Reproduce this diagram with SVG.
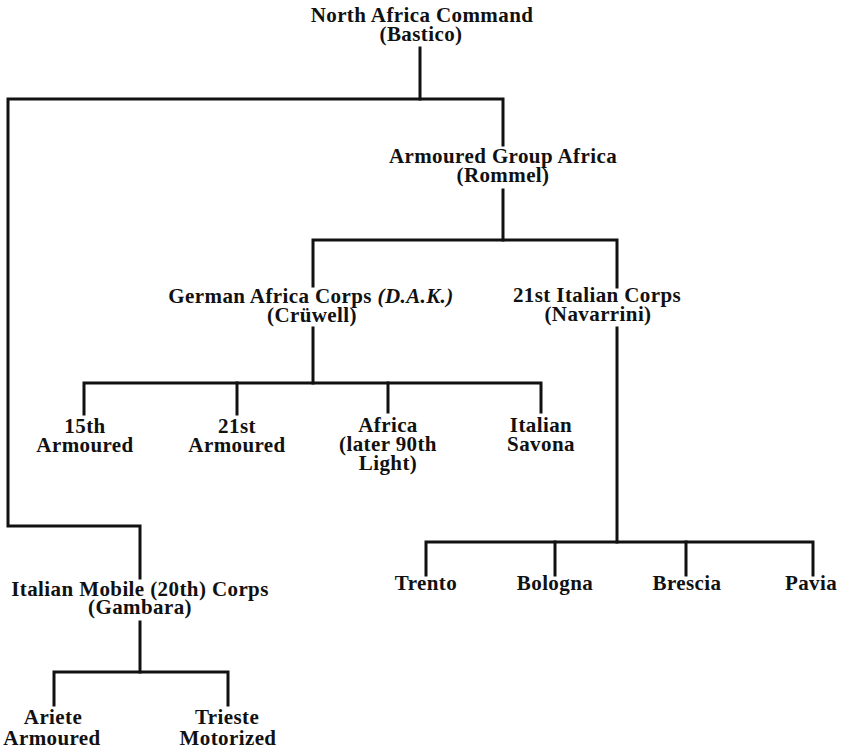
<svg xmlns="http://www.w3.org/2000/svg" width="842" height="750" viewBox="0 0 842 750">
<style>
.t{font-family:"Liberation Serif","Times New Roman",serif;font-weight:bold;font-size:21px;letter-spacing:0.4px;fill:#111;text-anchor:middle}
.c{fill:none;stroke:#111;stroke-width:3;stroke-linecap:square;stroke-linejoin:miter}
</style>
<rect width="842" height="750" fill="#fff"/>
<g id="connectors" class="c">
<path d="M420,48 V99"/>
<path d="M140,578 V526 H8 V99 H503 V145"/>
<path d="M503,190 V240"/>
<path d="M313,286 V240 H617 V287"/>
<path d="M313,328 V383"/>
<path d="M84,414 V383 H541 V412"/>
<path d="M237,414 V383"/>
<path d="M388,412 V383"/>
<path d="M617,328 V542"/>
<path d="M426,575 V542 H813 V575"/>
<path d="M555,575 V542"/>
<path d="M686,575 V542"/>
<path d="M140,622 V672"/>
<path d="M54,705 V672 H228 V705"/>
</g>
<g id="north-africa-command"><text class="t" x="422" y="22">North Africa Command</text><text class="t" x="421" y="41">(Bastico)</text></g>
<g id="armoured-group-africa"><text class="t" x="503" y="163">Armoured Group Africa</text><text class="t" x="503" y="182">(Rommel)</text></g>
<g id="german-africa-corps"><text class="t" x="311" y="303">German Africa Corps <tspan font-style="italic">(D.A.K.)</tspan></text><text class="t" x="312" y="322">(Crüwell)</text></g>
<g id="italian-21st-corps"><text class="t" x="597" y="302">21st Italian Corps</text><text class="t" x="598" y="321">(Navarrini)</text></g>
<g id="div-15th"><text class="t" x="85" y="433">15th</text><text class="t" x="85" y="452">Armoured</text></g>
<g id="div-21st"><text class="t" x="237" y="433">21st</text><text class="t" x="237" y="452">Armoured</text></g>
<g id="div-africa"><text class="t" x="388" y="432">Africa</text><text class="t" x="388" y="451">(later 90th</text><text class="t" x="388" y="470">Light)</text></g>
<g id="div-savona"><text class="t" x="541" y="432">Italian</text><text class="t" x="541" y="451">Savona</text></g>
<g id="div-trento"><text class="t" x="426" y="590">Trento</text></g>
<g id="div-bologna"><text class="t" x="555" y="590">Bologna</text></g>
<g id="div-brescia"><text class="t" x="687" y="590">Brescia</text></g>
<g id="div-pavia"><text class="t" x="811" y="590">Pavia</text></g>
<g id="italian-mobile-corps"><text class="t" x="140" y="596">Italian Mobile (20th) Corps</text><text class="t" x="140" y="614">(Gambara)</text></g>
<g id="div-ariete"><text class="t" x="53" y="724">Ariete</text><text class="t" x="52" y="745">Armoured</text></g>
<g id="div-trieste"><text class="t" x="227" y="724">Trieste</text><text class="t" x="228" y="745">Motorized</text></g>
</svg>
